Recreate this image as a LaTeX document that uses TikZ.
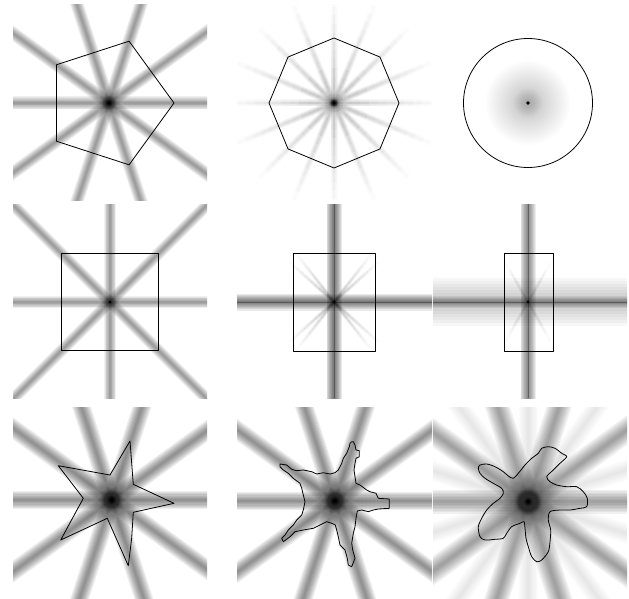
\documentclass[tikz,border=0pt]{standalone}
\usepackage{tikz}

\tikzset{
  shapeline/.style={line width=0.8pt, black, line join=round},
  haze/.style={fill=black, opacity=#1},
}

% a blurred line through a centre: centre, angle, reach, width, opacity
\newcommand{\softray}[5]{%
  \foreach \f in {1,0.875,0.75,0.625,0.5,0.375,0.25,0.125}
    \draw[line width=\f*#4, opacity=#5, shift={(#1)}] (#2:#3) -- (#2+180:#3);
}
% same, but fading out towards its ends
\newcommand{\fadeline}[5]{%
  \foreach \s in {0,1,...,11}{
    \pgfmathsetmacro{\segop}{#5*(1-\s/12)}
    \foreach \f in {1,0.8,0.6,0.4,0.2}
      \draw[line width=\f*#4, opacity=\segop, shift={(#1)}]
        (#2:{\s*#3/12}) -- (#2:{(\s+1)*#3/12})
        (#2+180:{\s*#3/12}) -- (#2+180:{(\s+1)*#3/12});
  }
}

\def\starpath{(130,441) -- (133.3,484.3) -- (174,503.3) -- (133.3,512.3) -- (131.7,538) -- (128.3,565.7) -- (107.3,518.3) -- (60.7,540) -- (83.3,498.3) -- (58.3,465.7) -- (110,475) -- cycle}
\def\jaggedstar{(351.7,441.7) -- (353.3,441.7) -- (355,445) -- (356,450) -- (359.3,450.7) -- (359.3,456.7) -- (356,458.3) -- (355,463.3) -- (354,470) -- (355,476.7) -- (356,483.3) -- (360,485) -- (366.7,490) -- (370,491.7) -- (376,493.3) -- (378.3,498.3) -- (389.3,499) -- (389.3,508.3) -- (378.3,509) -- (373.3,510) -- (368.3,511.7) -- (361.7,510) -- (357.3,511) -- (356,518.3) -- (355,526.7) -- (353.3,533.3) -- (351.7,543.3) -- (352.7,550) -- (355,558.3) -- (351.7,566.7) -- (348.3,565) -- (347.3,558.3) -- (345,550) -- (340,545) -- (338.3,536.7) -- (336.7,530) -- (335.3,525) -- (331.7,523.3) -- (326.7,521.7) -- (320,525) -- (313.3,528.3) -- (303.3,530) -- (295,531.7) -- (290,536.7) -- (283.3,541.7) -- (281.7,538.3) -- (285,535) -- (288.3,530) -- (293.3,525) -- (296.7,520) -- (301.7,515) -- (303.3,510) -- (305,501.7) -- (303.3,495) -- (301.7,488.3) -- (300,483.3) -- (293.3,478.3) -- (288.3,473.3) -- (283.3,470) -- (280,466.7) -- (280,464) -- (286.7,465) -- (291.7,469.3) -- (296.7,470.7) -- (303.3,470) -- (311.7,471.7) -- (316.7,474) -- (323.3,472.7) -- (330,474) -- (335,472.7) -- (338.3,470) -- (341.7,463.3) -- (343.3,458.3) -- (346.7,453.3) -- (349.3,446.7) -- (350,443.3) -- cycle}
\def\blobpath{plot[smooth cycle, tension=0.5] coordinates {(480,465) (486.7,464) (495,466.7) (503.3,471.7) (508.3,476) (513.3,478.3) (518.3,473.3) (525,465) (531.7,458.3) (538.3,453.3) (541.7,448.3) (548.3,446.7) (555,448.3) (561.7,453.3) (566.7,456.7) (560,463.3) (553.3,470) (546.7,476.7) (550,481.7) (556.7,485) (566.7,486.7) (576.7,486.7) (583.3,491.7) (587.3,498.3) (586.7,506.7) (580,508.3) (570,510) (560,510) (550,511.7) (548.3,520) (550.7,530) (550,541.7) (548.3,551.7) (541.7,560) (536.7,561.7) (531.7,556.7) (528.3,546.7) (526,538.3) (525,528.3) (524,521.7) (520,523.3) (511.7,526.7) (506.7,533.3) (503.3,538.3) (495,539.3) (485,540) (480,536.7) (478.3,526.7) (481.7,518.3) (486.7,510) (493.3,503.3) (500,498.3) (503.3,493.3) (501.7,488.3) (493.3,483.3) (485,478.3) (480,473.3) (478.3,468.3)}}

\begin{document}
\begin{tikzpicture}[x=1pt, y=-1pt]
\useasboundingbox (0,0) rectangle (629,599);
\coordinate (c1) at (109,103);
\coordinate (c2) at (334,103);
\coordinate (c3) at (528,103);
\coordinate (c4) at (110,302);
\coordinate (c5) at (334,302);
\coordinate (c6) at (528,302);
\coordinate (c7) at (111.7,500);
\coordinate (c8) at (335,501);
\coordinate (c9) at (528.3,501.7);

% pentagon
\begin{scope}
  \clip (13,5) rectangle (207,200);
  \foreach \a in {0,36,...,144}{\softray{c1}{\a}{150}{13}{0.06}}
  \draw[shapeline, shift={(c1)}] (0:65) -- (72:65) -- (144:65) -- (216:65) -- (288:65) -- cycle;
  \fill[haze=0.3] (c1) circle (3.5);
  \fill (c1) circle (1.8);
\end{scope}

% octagon
\begin{scope}
  \clip (237,5) rectangle (432,200);
  \foreach \a in {0,22.5,...,157.5}{\fadeline{c2}{\a}{105}{7}{0.05}}
  \draw[shapeline, shift={(c2)}] (0:65) \foreach \a in {45,90,...,315}{ -- (\a:65)} -- cycle;
  \fill[haze=0.3] (c2) circle (3.5);
  \fill (c2) circle (1.8);
\end{scope}

% disc
\begin{scope}
  \clip (433,5) rectangle (627,200);
  \foreach \r in {2,4,...,42}{\fill[haze=0.011] (c3) circle (\r);}
  \foreach \r in {2,4,...,14}{\fill[haze=0.025] (c3) circle (\r);}
  \draw[shapeline] (c3) circle (64.5);
  \fill (c3) circle (1.8);
\end{scope}

% square
\begin{scope}
  \clip (13,204) rectangle (207,398);
  \foreach \a in {0,45,90,135}{\softray{c4}{\a}{150}{12}{0.06}}
  \draw[shapeline] (61.5,253.5) rectangle (158.5,350.5);
  \fill (c4) circle (1.5);
\end{scope}

% rectangle
\begin{scope}
  \clip (237,204) rectangle (432,398);
  \softray{c5}{0}{150}{17}{0.085}
  \softray{c5}{90}{150}{15}{0.085}
  \draw[line width=1, opacity=0.3] (237,302) -- (432,302) (334,204) -- (334,398);
  \foreach \a in {42,52,128,138}{\fadeline{c5}{\a}{60}{4}{0.05}}
  \draw[shapeline] (293,253) rectangle (375,351);
  \fill (c5) circle (1.5);
\end{scope}

% narrow rectangle
\begin{scope}
  \clip (433,204) rectangle (627,398);
  \softray{c6}{0}{150}{48}{0.03}
  \softray{c6}{0}{150}{12}{0.05}
  \softray{c6}{90}{150}{15}{0.07}
  \draw[line width=1, opacity=0.3] (433,302) -- (627,302) (528,204) -- (528,398);
  \foreach \a in {60,120}{\fadeline{c6}{\a}{45}{4}{0.03}}
  \draw[shapeline] (504,253) rectangle (553,351);
  \fill (c6) circle (1.5);
\end{scope}

% star
\begin{scope}
  \clip (13,407) rectangle (207,599);
  \foreach \a in {0,36,...,144}{\softray{c7}{\a}{150}{18}{0.065}}
  \begin{scope}
    \clip \starpath;
    \fill[haze=0.03] (c7) circle (70);
    \foreach \r in {4,8,...,40}{\fill[haze=0.012] (c7) circle (\r);}
  \end{scope}
  \draw[shapeline] \starpath;
  \fill[haze=0.3] (c7) circle (4);
  \fill (c7) circle (2);
\end{scope}

% jagged star
\begin{scope}
  \clip (237,407) rectangle (432,599);
  \foreach \a in {0,36,...,144}{\softray{c8}{\a}{150}{18}{0.065}}
  \begin{scope}
    \clip \jaggedstar;
    \fill[haze=0.03] (c8) circle (70);
    \foreach \r in {4,8,...,40}{\fill[haze=0.012] (c8) circle (\r);}
  \end{scope}
  \draw[shapeline] \jaggedstar;
  \fill[haze=0.3] (c8) circle (4);
  \fill (c8) circle (2);
\end{scope}

% blob
\begin{scope}
  \clip (433,407) rectangle (627,599);
  \foreach \a in {0,36,...,144}{\softray{c9}{\a}{150}{24}{0.055}}
  \foreach \a in {18,54,...,162}{\softray{c9}{\a}{150}{20}{0.012}}
  \begin{scope}
    \clip \blobpath;
    \fill[haze=0.03] (c9) circle (70);
    \foreach \r in {4,8,...,40}{\fill[haze=0.012] (c9) circle (\r);}
  \end{scope}
  \draw[shapeline] \blobpath;
  \fill[haze=0.3] (c9) circle (4);
  \fill (c9) circle (2);
\end{scope}
\end{tikzpicture}
\end{document}
